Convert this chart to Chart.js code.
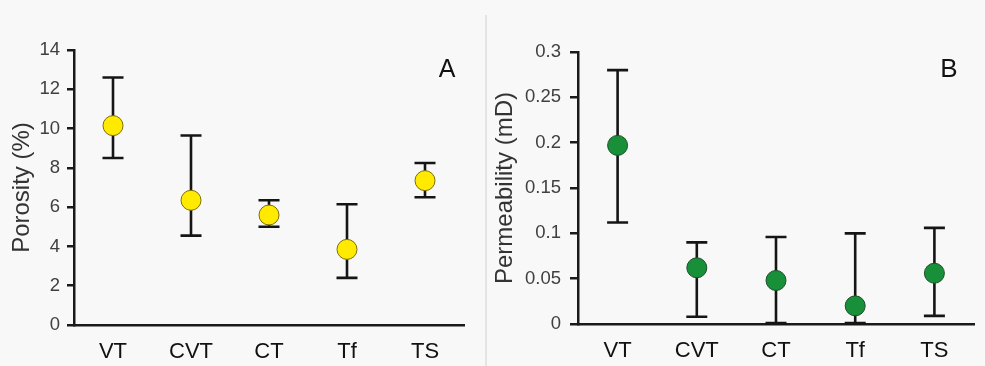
<!DOCTYPE html>
<html><head><meta charset="utf-8">
<script src="https://cdn.jsdelivr.net/npm/chart.js@4.4.1/dist/chart.umd.min.js"></script>
<style>
html,body{margin:0;padding:0;background:#f8f8f8;width:985px;height:366px;overflow:hidden;font-family:"Liberation Sans",Arial,sans-serif;}
#wa{position:absolute;left:0;top:0;width:485px;height:366px;}
#wb{position:absolute;left:487px;top:0;width:498px;height:366px;}
#sep{position:absolute;left:485px;top:15px;width:2px;height:351px;background:#e4e4e4;}
.pl{position:absolute;color:#111;line-height:1;transform:translateX(-50%);}
</style></head><body>
<div id="wa"><canvas id="ca"></canvas></div>
<div id="sep"></div>
<div id="wb"><canvas id="cb"></canvas></div>
<div class="pl" style="left:447px;top:55.5px;font-size:25px;">A</div>
<div class="pl" style="left:949px;top:55.3px;font-size:26px;">B</div>
<script>
const categories = ['VT', 'CVT', 'CT', 'Tf', 'TS'];
const porosityMean = [10.15, 6.35, 5.6, 3.85, 7.35];
const porosityLow  = [8.5, 4.55, 5.0, 2.4, 6.5];
const porosityHigh = [12.6, 9.65, 6.35, 6.15, 8.25];
const permMean = [0.197, 0.062, 0.048, 0.02, 0.056];
const permLow  = [0.112, 0.008, 0.001, 0.001, 0.009];
const permHigh = [0.28, 0.09, 0.096, 0.1, 0.106];
const porosityTicks = ['0', '2', '4', '6', '8', '10', '12', '14'];
const permTicks = ['0', '0.05', '0.1', '0.15', '0.2', '0.25', '0.3'];

const FONT = "'Liberation Sans', Arial, sans-serif";

function errorBars(lo, hi) {
  return {
    id: 'errorBars',
    beforeDatasetsDraw(chart) {
      const ctx = chart.ctx, xs = chart.scales.x, ys = chart.scales.y;
      const cap = 10.5;
      ctx.save();
      ctx.strokeStyle = '#151515';
      ctx.lineWidth = 2.6;
      lo.forEach((v, i) => {
        const px = xs.getPixelForValue(i);
        const p1 = ys.getPixelForValue(v), p2 = ys.getPixelForValue(hi[i]);
        ctx.beginPath();
        ctx.moveTo(px, p1); ctx.lineTo(px, p2);
        ctx.moveTo(px - cap, p1); ctx.lineTo(px + cap, p1);
        ctx.moveTo(px - cap, p2); ctx.lineTo(px + cap, p2);
        ctx.stroke();
      });
      ctx.restore();
    }
  };
}

function makeChart(id, cfg) {
  return new Chart(document.getElementById(id), {
    type: 'line',
    data: {
      labels: categories,
      datasets: [{
        data: cfg.mean,
        showLine: false,
        pointRadius: 10,
        pointHoverRadius: 10,
        pointBackgroundColor: cfg.fill,
        pointBorderColor: cfg.stroke,
        pointBorderWidth: 1,
        clip: false
      }]
    },
    options: {
      responsive: true,
      maintainAspectRatio: false,
      animation: false,
      devicePixelRatio: 1,
      events: [],
      layout: { padding: cfg.padding },
      plugins: { legend: { display: false }, tooltip: { enabled: false } },
      scales: {
        x: {
          type: 'category',
          offset: true,
          grid: { display: false, drawTicks: false },
          border: { display: true, color: '#1a1a1a', width: 2.5 },
          ticks: { color: '#111', font: { family: FONT, size: 22 }, padding: 14, maxRotation: 0, autoSkip: false },
          afterFit(s) { s.height = cfg.xHeight; }
        },
        y: {
          min: 0, max: cfg.max,
          ticks: {
            stepSize: cfg.step,
            color: '#404040',
            font: { family: FONT, size: 18.5 },
            padding: cfg.tickPad,
            callback: (v, i) => cfg.ticks[i]
          },
          grid: { drawOnChartArea: false, drawTicks: true, tickLength: cfg.tickLen, color: '#1a1a1a', lineWidth: 2.5 },
          border: { display: true, color: '#1a1a1a', width: 2.5 },
          title: { display: true, text: cfg.title, color: '#333', font: { family: FONT, size: 24 }, padding: { top: cfg.titlePad, bottom: 0 } },
          afterFit(s) { s.width = cfg.yWidth; }
        }
      }
    },
    plugins: [errorBars(cfg.lo, cfg.hi)]
  });
}

makeChart('ca', {
  mean: porosityMean, lo: porosityLow, hi: porosityHigh, ticks: porosityTicks,
  fill: '#ffea00', stroke: '#7d6e00', max: 14, step: 2,
  title: 'Porosity (%)', titlePad: 8, yWidth: 74, xHeight: 41,
  tickPad: 7, tickLen: 7,
  padding: { left: 0, right: 21, top: 50, bottom: 0 }
});

makeChart('cb', {
  mean: permMean, lo: permLow, hi: permHigh, ticks: permTicks,
  fill: '#179039', stroke: '#1a4f26', max: 0.3, step: 0.05,
  title: 'Permeability (mD)', titlePad: 4, yWidth: 91, xHeight: 42,
  tickPad: 9, tickLen: 8,
  padding: { left: 0, right: 8, top: 52, bottom: 0 }
});
</script>
</body></html>
